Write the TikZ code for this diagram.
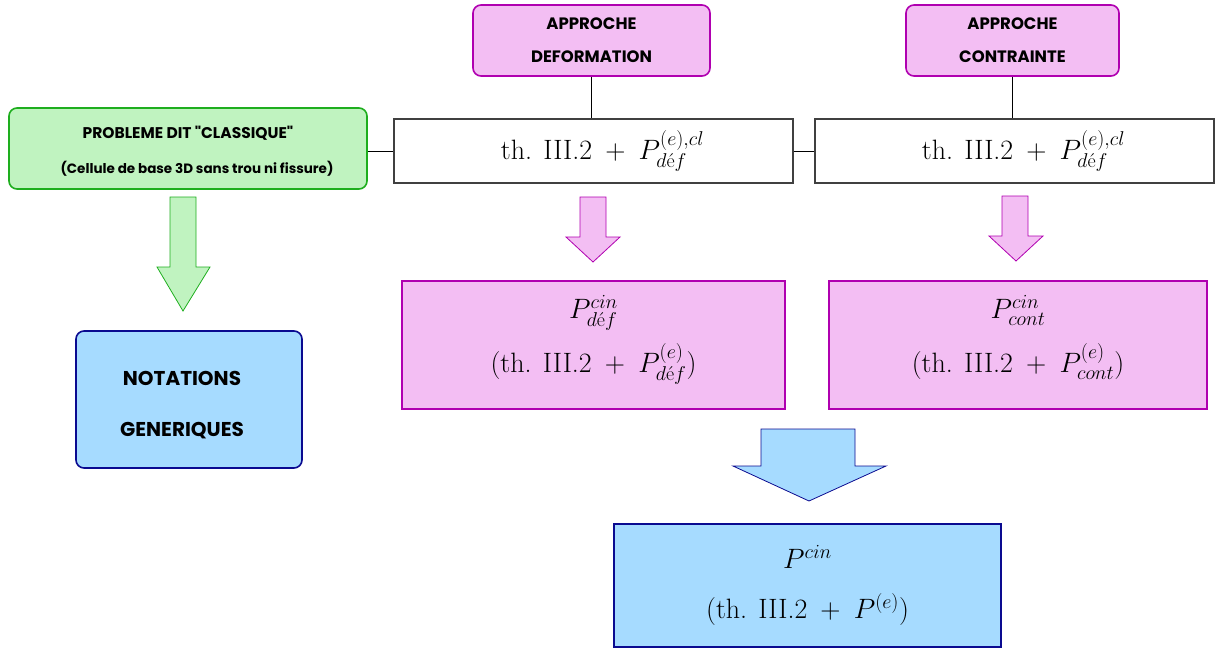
\RequirePackage{fix-cm}
\documentclass[tikz,border=0pt]{standalone}
\usepackage{amsmath}
\usepackage{fontspec}
\newfontfamily\gothic{Poppins}
\DeclareMathSizes{28}{28}{20}{14}
\definecolor{pinkfill}{HTML}{F3BEF3}
\definecolor{pinkline}{HTML}{B000B0}
\definecolor{bluefill}{HTML}{A6DBFF}
\definecolor{blueline}{HTML}{0A0A90}
\definecolor{greenfill}{HTML}{C0F3C0}
\definecolor{greenline}{HTML}{1EAE1E}
\begin{document}
\begin{tikzpicture}[x=1pt, y=-1pt, every node/.style={align=center, inner sep=0pt},
    titlebox/.style={rounded corners=8pt, line width=1.6pt, font=\gothic\bfseries\fontsize{16.5}{33}\selectfont},
    thbox/.style={draw=black!75, line width=1.2pt, fill=white, font=\fontsize{28}{32}\selectfont},
    cinbox/.style={line width=1.6pt, font=\fontsize{28}{54}\selectfont}]
    \useasboundingbox (0,0) rectangle (1218,650);

    \node[titlebox, draw=greenline, fill=greenfill, minimum width=358pt, minimum height=81pt,
        font=\gothic\bfseries\fontsize{15.5}{35}\selectfont] (classique) at (188,148.5)
        {\rule{0pt}{17pt}PROBLEME DIT "CLASSIQUE"\\ \hspace*{18pt}{\fontsize{13.5}{35}\selectfont (Cellule de base 3D sans trou ni fissure)}};
    \node[titlebox, draw=pinkline, fill=pinkfill, minimum width=237pt, minimum height=71pt] (deformation) at (591.5,40.5) {APPROCHE\\DEFORMATION};
    \node[titlebox, draw=pinkline, fill=pinkfill, minimum width=213pt, minimum height=71pt] (contrainte) at (1012.5,40.5) {APPROCHE\\CONTRAINTE};

    \node[thbox, minimum width=399pt, minimum height=64pt] (thdef) at (593.5,151) {\hspace*{18pt}th. III.2 \,+\, $P^{(e),cl}_{d\text{é}f}$};
    \node[thbox, minimum width=399pt, minimum height=64pt] (thcont) at (1014.5,151) {\hspace*{18pt}th. III.2 \,+\, $P^{(e),cl}_{d\text{é}f}$};

    \draw[line width=0.8pt] (classique.east |- thdef.west) -- (thdef.west);
    \draw[line width=0.8pt] (thdef.east) -- (thcont.west);
    \draw[line width=0.8pt] (deformation.south) -- (deformation.south |- thdef.north);
    \draw[line width=0.8pt] (contrainte.south) -- (contrainte.south |- thcont.north);

    \filldraw[draw=greenline, fill=greenfill, line width=0.8pt] (170,197) -- (196,197) -- (196,267) -- (210,267) -- (183,311) -- (157,267) -- (170,267) -- cycle;
    \filldraw[draw=pinkline, fill=pinkfill, line width=0.8pt] (580,197) -- (606,197) -- (606,237) -- (620,237) -- (593,262) -- (566,237) -- (580,237) -- cycle;
    \filldraw[draw=pinkline, fill=pinkfill, line width=0.8pt] (1002,196) -- (1028,196) -- (1028,236) -- (1043,236) -- (1016,261) -- (989,236) -- (1002,236) -- cycle;
    \filldraw[draw=blueline, fill=bluefill, line width=0.8pt] (761,429) -- (855,429) -- (855,466) -- (886,466) -- (809,501) -- (733,466) -- (761,466) -- cycle;

    \node[titlebox, draw=blueline, fill=bluefill, minimum width=226pt, minimum height=137pt,
        font=\gothic\bfseries\fontsize{20}{51}\selectfont] (notations) at (189,399.5)
        {\rule{0pt}{26pt}NOTATIONS\hspace*{14pt}\\GENERIQUES\hspace*{14pt}};

    \node[cinbox, draw=pinkline, fill=pinkfill, minimum width=383pt, minimum height=128pt] (cindef) at (593.5,345)
        {$P^{cin}_{d\text{é}f}$\\(th. III.2 \,+\, $P^{(e)}_{d\text{é}f}$)\rule[-22pt]{0pt}{22pt}};
    \node[cinbox, draw=pinkline, fill=pinkfill, minimum width=378pt, minimum height=128pt] (cincont) at (1018,345)
        {$P^{cin}_{cont}$\\(th. III.2 \,+\, $P^{(e)}_{cont}$)\rule[-22pt]{0pt}{22pt}};
    \node[cinbox, draw=blueline, fill=bluefill, minimum width=387pt, minimum height=123pt,
        font=\fontsize{28}{50}\selectfont] (cin) at (807.5,585.5)
        {$P^{cin}$\\(th. III.2 \,+\, $P^{(e)}$)};
\end{tikzpicture}
\end{document}
